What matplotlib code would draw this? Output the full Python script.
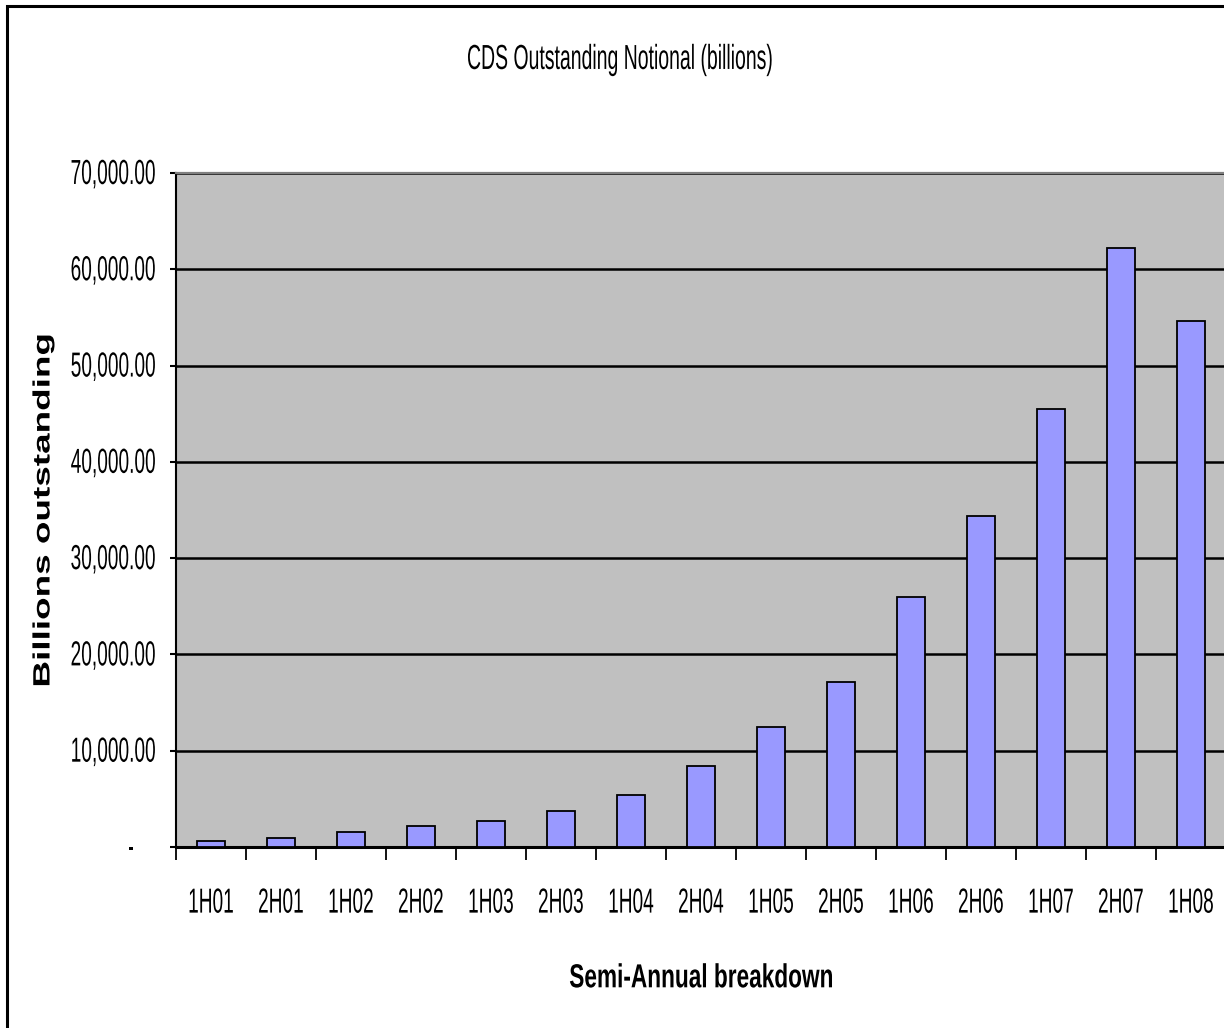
import matplotlib
matplotlib.use("Agg")
import matplotlib.pyplot as plt
from matplotlib.patches import Rectangle
from matplotlib.patheffects import AbstractPathEffect
from matplotlib.transforms import Affine2D
from matplotlib.ticker import FuncFormatter, FixedLocator

# Semi-annual CDS outstanding notional, billions
periodos = ["1H01", "2H01", "1H02", "2H02", "1H03", "2H03", "1H04", "2H04",
            "1H05", "2H05", "1H06", "2H06", "1H07", "2H07", "1H08"]
nocional = [631.50, 918.87, 1563.48, 2191.57, 2687.91, 3779.40, 5441.86, 8422.26,
            12430.09, 17096.14, 26005.55, 34422.80, 45464.46, 62173.20, 54611.82]

W, H = 1224, 1028
FUENTE = ["Liberation Sans", "DejaVu Sans"]


class Estirar(AbstractPathEffect):
    """Estira el texto en pantalla alrededor del centro de su tinta."""

    def __init__(self, sx=1.0, sy=1.0):
        super().__init__()
        self.sx, self.sy = sx, sy

    def draw_path(self, renderer, gc, tpath, affine, rgbFace=None):
        bb = tpath.get_extents(affine)
        x0, y0 = bb.x0 + bb.width / 2, bb.y0 + bb.height / 2
        t = affine + Affine2D().translate(-x0, -y0).scale(self.sx, self.sy).translate(x0, y0)
        renderer.draw_path(gc, tpath, t, rgbFace)


alto = [Estirar(sy=1.82)]

fig = plt.figure(figsize=(W / 100, H / 100), dpi=100)
ax = fig.add_axes([176 / W, (H - 847) / H, 1050 / W, 674 / H])
ax.set_facecolor("#C0C0C0")

x = range(len(periodos))
ax.bar(x, nocional, width=0.41, color="#9999FF", edgecolor="black",
       linewidth=1.3, zorder=3)

ax.set_xlim(-0.5, len(periodos) - 0.5)
ax.set_ylim(0, 70000)

# lineas de la grilla en negro, por debajo de las barras
ax.set_axisbelow(True)
ax.yaxis.grid(True, color="black", linewidth=1.8)
ax.set_yticks(range(0, 70001, 10000))


def formato(v, pos):
    if v == 0:
        return "-    "
    return "{:,.2f}".format(v)


ax.yaxis.set_major_formatter(FuncFormatter(formato))
ax.tick_params(axis="y", direction="out", length=4.5, width=1.5, pad=10.2,
               labelsize=13.75, colors="black")

ax.set_xticks(list(x))
ax.set_xticklabels(periodos)
ax.xaxis.set_minor_locator(FixedLocator([i - 0.5 for i in range(len(periodos) + 1)]))
ax.tick_params(axis="x", which="major", length=0, pad=34, labelsize=13.75)
ax.tick_params(axis="x", which="minor", direction="out", length=9, width=1.3)

for t in ax.get_yticklabels() + ax.get_xticklabels():
    t.set_family(FUENTE)
    t.set_path_effects(alto)

ax.spines["top"].set_color("#808080")
ax.spines["top"].set_linewidth(1.6)
ax.spines["right"].set_visible(False)
ax.spines["left"].set_linewidth(1.5)
ax.spines["bottom"].set_linewidth(2.2)

ax.set_xlabel("Semi-Annual breakdown", family=FUENTE, fontweight="bold",
              fontsize=16.3, va="baseline", path_effects=[Estirar(sy=1.47)])
ax.xaxis.set_label_coords(0.5, -(983.5 - 847) / 674)
ax.set_ylabel("Billions outstanding", family=FUENTE, fontweight="bold",
              fontsize=17, va="center", path_effects=[Estirar(sy=1.5625)])
ax.yaxis.set_label_coords((43 - 176) / 1050, 0.5)

fig.text(621 / W, 1 - 65 / H, "CDS Outstanding Notional (billions)",
         family=FUENTE, fontsize=14, ha="center", va="baseline",
         path_effects=[Estirar(sy=1.786)])

# marco exterior del grafico
fig.add_artist(Rectangle((7 / W, -0.05), 1.2, (H - 6) / H + 0.05,
                         transform=fig.transFigure, fill=False,
                         edgecolor="black", linewidth=2.2))

fig.savefig("out.png", dpi=100, facecolor="white")
plt.close(fig)
